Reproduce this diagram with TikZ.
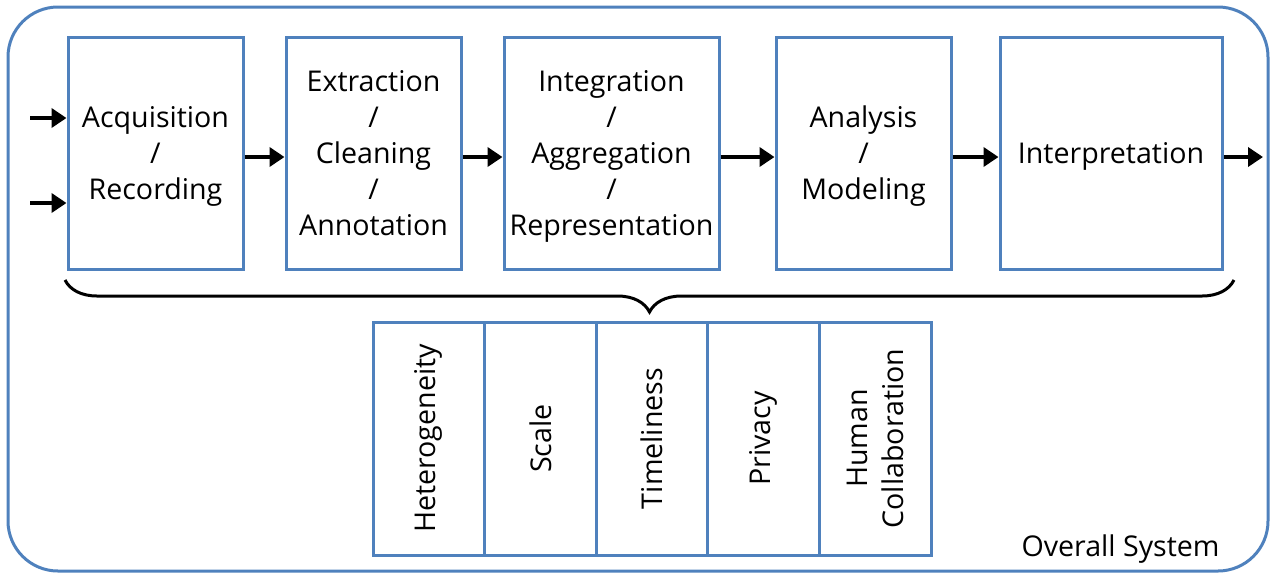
\documentclass[tikz,border=0pt]{standalone}
\usepackage{fontspec}
\setmainfont{Open Sans}
\usetikzlibrary{arrows.meta,decorations.pathreplacing}
\definecolor{boxblue}{RGB}{79,129,189}
\begin{document}
\begin{tikzpicture}[x=0.5pt,y=0.5pt,
    stage/.style={draw=boxblue,line width=1.5pt,minimum height=116pt,align=center,inner sep=0pt,text depth=0pt,font=\fontsize{14.3}{18}\selectfont},
    issue/.style={draw=boxblue,line width=1.5pt,rotate=90,minimum width=116.5pt,minimum height=55.8pt,align=center,inner sep=0pt,font=\fontsize{14.3}{18}\selectfont},
    flow/.style={line width=2pt,-{Triangle[length=7.5pt,width=9.5pt]}}]
  \useasboundingbox (0,0) rectangle (1276,-575);
  \draw[boxblue,line width=1.5pt,rounded corners=25pt] (8,-7) rectangle (1268,-571);
  \node[stage,minimum width=87.5pt] (acq) at (155.5,-153) {Acquisition\\/\\Recording};
  \node[stage,minimum width=87.5pt] (ext) at (373.5,-153) {Extraction\\/\\Cleaning\\/\\Annotation};
  \node[stage,minimum width=107.5pt] (int) at (611.5,-153) {Integration\\/\\Aggregation\\/\\Representation};
  \node[stage,minimum width=87.5pt] (ana) at (863.5,-153) {Analysis\\/\\Modeling};
  \node[stage,minimum width=111pt] (itp) at (1111,-153) {Interpretation};
  \coordinate (in1) at (30,-118);
  \coordinate (in2) at (30,-203);
  \coordinate (out) at (1263,-157);
  \draw[flow] (in1) -- (in1 -| acq.west);
  \draw[flow] (in2) -- (in2 -| acq.west);
  \draw[flow] ([yshift=-2pt]acq.east) -- ([yshift=-2pt]ext.west);
  \draw[flow] ([yshift=-2pt]ext.east) -- ([yshift=-2pt]int.west);
  \draw[flow] ([yshift=-2pt]int.east) -- ([yshift=-2pt]ana.west);
  \draw[flow] ([yshift=-2pt]ana.east) -- ([yshift=-2pt]itp.west);
  \draw[flow] (out -| itp.east) -- (out);
  \draw[line width=1.5pt,decorate,decoration={brace,mirror,amplitude=16pt}] (65,-280) -- (1234,-280);
  \node[issue] (het) at (428.8,-438.5) {Heterogeneity};
  \node[issue] (sca) at (540.4,-438.5) {Scale};
  \node[issue] (tim) at (652,-438.5) {Timeliness};
  \node[issue] (pri) at (763.6,-438.5) {Privacy};
  \node[issue] (hum) at (875.2,-438.5) {Human\\Collaboration};
  \node[anchor=base east,inner sep=0pt,font=\fontsize{14.3}{18}\selectfont] (sys) at (1220,-556) {Overall System};
\end{tikzpicture}
\end{document}
